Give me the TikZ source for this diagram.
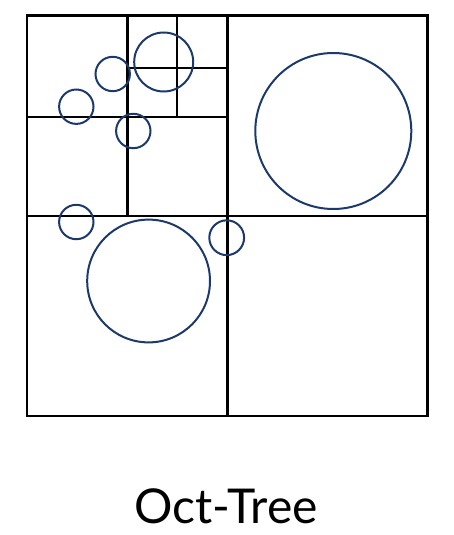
\documentclass[tikz,border=0pt]{standalone}
\usepackage{fontspec}
\setmainfont{Lato}
\definecolor{navy}{HTML}{1B3A6B}
\begin{document}
\begin{tikzpicture}[x=1pt,y=-1pt,
  grid/.style={draw=black,line width=2.4pt},
  ball/.style={draw=navy,line width=2pt}]
\useasboundingbox (0,0) rectangle (454,535);
% outer box
\coordinate (tl) at (26.7,15.7);
\coordinate (br) at (427.3,415.7);
\draw[grid] (tl) rectangle (br);
% main split
\draw[grid] (227.3,15.7) -- (227.3,415.7);
\draw[grid] (26.7,215.7) -- (427.3,215.7);
% top-left quadrant split
\draw[grid] (127.3,15.7) -- (127.3,215.7);
\draw[grid] (26.7,116.7) -- (227.3,116.7);
% further split
\draw[grid] (176.7,15.7) -- (176.7,116.7);
\draw[grid] (127.3,67.7) -- (227.3,67.7);
% circles
\draw[ball] (163.7,62) circle (29.5);
\draw[ball] (112.7,74) circle (17.2);
\draw[ball] (76.3,106.7) circle (17.2);
\draw[ball] (133.3,131) circle (17.2);
\draw[ball] (333.3,131) circle (78);
\draw[ball] (76.3,222) circle (17.2);
\draw[ball] (226.7,237.7) circle (17.4);
\draw[ball] (148.6,281) circle (61.4);
% label
\node[anchor=base,font=\fontsize{48}{56}\selectfont,inner sep=0pt] (lbl) at (226,523) {Oct-Tree};
\end{tikzpicture}
\end{document}
